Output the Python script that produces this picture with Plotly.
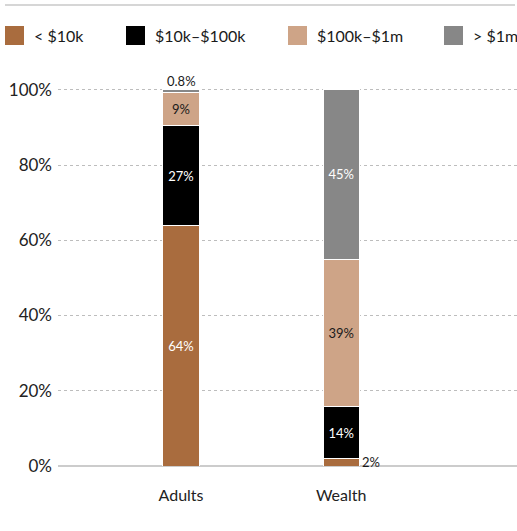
import plotly.graph_objects as go

# Share of adults and of total wealth, by wealth band
groups = ["Adults", "Wealth"]
bands = ["< $10k", "$10k–$100k", "$100k–$1m", "> $1m"]
under_10k = [63.9, 1.9]
from_10k_to_100k = [26.6, 13.8]
from_100k_to_1m = [8.7, 39.3]
over_1m = [0.8, 45.0]
y_ticks = [0, 20, 40, 60, 80, 100]
y_tick_labels = [f"{t}%" for t in y_ticks]

series = [under_10k, from_10k_to_100k, from_100k_to_1m, over_1m]
colors = ["#a96c3e", "#000000", "#cea487", "#878787"]
text_colors = ["#ffffff", "#ffffff", "#1a1a1a", "#ffffff"]
FONT = "Lato, Open Sans, sans-serif"

fig = go.Figure()
for name, vals, col, tcol in zip(bands, series, colors, text_colors):
    labels = [f"{v:.0f}%" if v >= 5 else "" for v in vals]
    fig.add_trace(go.Bar(
        x=groups, y=vals, name=name, width=0.225,
        marker=dict(color=col, line=dict(color="#ffffff", width=1)),
        text=labels, textposition="inside", insidetextanchor="middle",
        textfont=dict(color=tcol, size=13, family=FONT),
        hoverinfo="skip", showlegend=False,
    ))

# small segments are labelled outside the bar
annotations = []
for gi, g in enumerate(groups):
    total = sum(s[gi] for s in series)
    for si, s in enumerate(series):
        v = s[gi]
        if v >= 5:
            continue
        base = sum(series[k][gi] for k in range(si))
        if si == len(series) - 1:
            annotations.append(dict(x=g, y=total, text=f"{v:g}%", showarrow=False,
                                    yanchor="bottom", yshift=-1,
                                    font=dict(size=13, color="#1a1a1a", family=FONT)))
        else:
            annotations.append(dict(x=g, y=base + v / 2, text=f"{v:.0f}%", showarrow=False,
                                    xanchor="left", xshift=19, yshift=0,
                                    font=dict(size=13, color="#1a1a1a", family=FONT)))

# legend drawn as swatches across the top
PLOT_L, PLOT_W, PLOT_B, PLOT_H = 58, 459, 466, 395
def px(x):
    return (x - PLOT_L) / PLOT_W
def py(y):
    return (PLOT_B - y) / PLOT_H

shapes = [dict(type="line", xref="paper", yref="paper", x0=px(5), x1=px(515),
               y0=py(5), y1=py(5), line=dict(color="#d6d6d6", width=2))]
legend_x = [5, 126, 288, 444]
for lx, name, col in zip(legend_x, bands, colors):
    shapes.append(dict(type="rect", xref="paper", yref="paper",
                       x0=px(lx), x1=px(lx + 19), y0=py(45), y1=py(26),
                       fillcolor=col, line=dict(width=0)))
    annotations.append(dict(xref="paper", yref="paper", x=px(lx + 27), y=py(36),
                            text=name, showarrow=False, xanchor="left", yanchor="middle",
                            font=dict(size=16, color="#1a1a1a", family=FONT)))

fig.update_layout(
    barmode="stack",
    width=517, height=531,
    margin=dict(l=58, r=0, t=71, b=65),
    paper_bgcolor="#ffffff", plot_bgcolor="#ffffff",
    font=dict(family=FONT, color="#222222"),
    xaxis=dict(range=[-0.768, 2.098], showgrid=False, showline=False, zeroline=False,
               ticks="", tickfont=dict(size=16, color="#222222"), fixedrange=True,
               ticklabelstandoff=18),
    yaxis=dict(range=[0, 105], tickvals=y_ticks, ticktext=y_tick_labels,
               showgrid=True, gridcolor="#bdbdbd", griddash="dot", gridwidth=1,
               zeroline=True, zerolinecolor="#cccccc", zerolinewidth=1.5,
               showline=False, ticks="", tickfont=dict(size=17, color="#222222"),
               ticklabelstandoff=5),
    shapes=shapes, annotations=annotations,
    showlegend=False,
)

fig.write_html("out.html")
